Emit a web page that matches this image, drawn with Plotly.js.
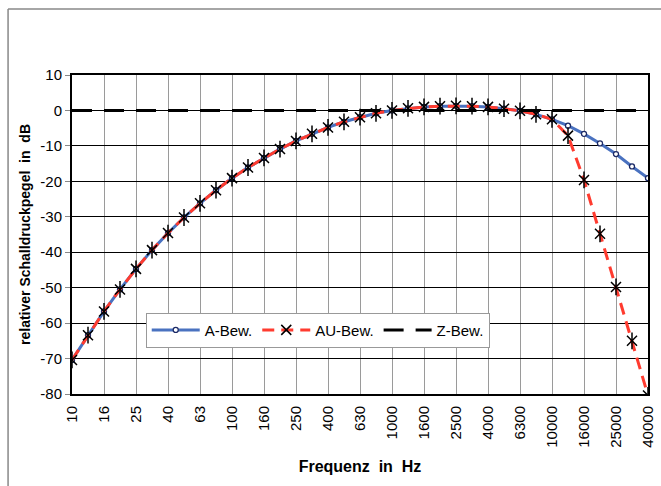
<!DOCTYPE html>
<html>
<head>
<meta charset="utf-8">
<script src="https://cdn.plot.ly/plotly-3.0.1.min.js"></script>
<style>
html,body{margin:0;padding:0;background:#fff;}
#chart{width:661px;height:486px;}
</style>
</head>
<body>
<div id="chart"></div>
<script>
var frequencies = ["10","12.5","16","20","25","31.5","40","50","63","80","100","125","160","200","250","315","400","500","630","800","1000","1250","1600","2000","2500","3150","4000","5000","6300","8000","10000","12500","16000","20000","25000","31500","40000"];
var aWeighting = [-70.4,-63.4,-56.7,-50.5,-44.7,-39.4,-34.6,-30.2,-26.2,-22.5,-19.1,-16.1,-13.4,-10.9,-8.6,-6.6,-4.8,-3.2,-1.9,-0.8,0,0.6,1.0,1.2,1.3,1.2,1.0,0.5,-0.1,-1.1,-2.5,-4.3,-6.6,-9.3,-12.3,-15.8,-19.1];
var auWeighting = [-70.4,-63.4,-56.7,-50.5,-44.7,-39.4,-34.6,-30.2,-26.2,-22.5,-19.1,-16.1,-13.4,-10.9,-8.6,-6.6,-4.8,-3.2,-1.9,-0.8,0,0.6,1.0,1.2,1.3,1.2,1.0,0.5,-0.1,-1.1,-2.5,-7.1,-19.6,-34.8,-49.8,-65.0,-80.4];
var zWeighting = [0,0,0,0,0,0,0,0,0,0,0,0,0,0,0,0,0,0,0,0,0,0,0,0,0,0,0,0,0,0,0,0,0,0,0,0,0];
var tickLabels = ["10","16","25","40","63","100","160","250","400","630","1000","1600","2500","4000","6300","10000","16000","25000","40000"];
var yTicks = [10,0,-10,-20,-30,-40,-50,-60,-70,-80];

var font = "Liberation Sans, Arial, sans-serif";

var traces = [
  {x: frequencies, y: aWeighting, name: "A-Bew.", type: "scatter", mode: "lines+markers",
   line: {color: "#4a72c0", width: 3},
   marker: {symbol: "circle", size: 5, color: "#ffffff", line: {color: "#1c2a66", width: 1.3}}},
  {x: frequencies, y: auWeighting, name: "AU-Bew.", type: "scatter", mode: "lines+markers",
   line: {color: "#ff3b2f", width: 3, dash: "12px,7px"},
   marker: {symbol: "x-thin-open", size: 10, color: "#000000", line: {color: "#000000", width: 1.5}}},
  {x: frequencies, y: auWeighting, name: "AU-Bew.", type: "scatter", mode: "markers", showlegend: false,
   marker: {symbol: "line-ns-open", size: 12, color: "#000000", line: {color: "#000000", width: 1.5}}},
  {x: frequencies, y: zWeighting, name: "Z-Bew.", type: "scatter", mode: "lines",
   line: {color: "#000000", width: 3, dash: "20px,12px"}}
];

var layout = {
  width: 661, height: 486,
  margin: {l: 72, r: 13, t: 75, b: 92},
  paper_bgcolor: "#ffffff", plot_bgcolor: "#ffffff",
  font: {family: font, size: 14, color: "#000000"},
  showlegend: true,
  legend: {orientation: "h", x: 0.128, y: 0.255, xanchor: "left", yanchor: "top",
           bgcolor: "#ffffff", bordercolor: "#999999", borderwidth: 1,
           font: {family: font, size: 15, color: "#000"}, itemwidth: 48, tracegroupgap: 0},
  xaxis: {type: "category", range: [0, 36], tickmode: "array", tickvals: tickLabels, ticktext: tickLabels,
          tickangle: -90, tickfont: {family: font, size: 15}, ticklabelstandoff: 4,
          showgrid: true, gridcolor: "#9a9a9a", gridwidth: 1,
          showline: true, linecolor: "#000", linewidth: 2, mirror: true, ticks: "",
          title: {text: "<b>Frequenz&nbsp; in&nbsp; Hz</b>", font: {family: font, size: 16}, standoff: 14}},
  yaxis: {range: [-80, 10], tickmode: "array", tickvals: yTicks, ticktext: yTicks.map(String),
          tickfont: {family: font, size: 15},
          showgrid: true, gridcolor: "#000000", gridwidth: 1, zeroline: false,
          showline: true, linecolor: "#000", linewidth: 2, mirror: true,
          ticks: "outside", ticklen: 5, tickcolor: "#888",
          title: {text: "<b>relativer Schalldruckpegel&nbsp; in&nbsp; dB</b>", font: {family: font, size: 14}, standoff: 6}},
  shapes: [
    {type: "line", xref: "paper", yref: "paper", x0: -0.111, x1: 1.03, y0: 1.207, y1: 1.207, line: {color: "#888", width: 1.5}},
    {type: "line", xref: "paper", yref: "paper", x0: -0.111, x1: -0.111, y0: 1.207, y1: -0.3, line: {color: "#888", width: 1.5}}
  ]
};

Plotly.newPlot("chart", traces, layout, {displayModeBar: false, staticPlot: true});
</script>
</body>
</html>
